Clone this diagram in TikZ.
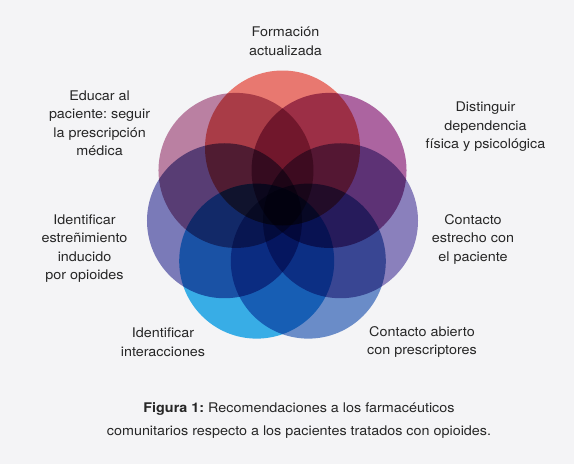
\documentclass[tikz,border=0pt]{standalone}
\usepackage{fontspec}
\setmainfont[FakeStretch=1.08]{TeX Gyre Heros}
\frenchspacing
\definecolor{bg}{HTML}{F4F4F6}
\definecolor{txt}{HTML}{262626}
\definecolor{cRed}{HTML}{E87870}
\definecolor{cMag}{HTML}{AC64A0}
\definecolor{cLav}{HTML}{8A80BC}
\definecolor{cBlu}{HTML}{6A8CC8}
\definecolor{cCya}{HTML}{38ADE6}
\definecolor{cPur}{HTML}{7A7AB8}
\definecolor{cMau}{HTML}{BA80A2}
\begin{document}
\begin{tikzpicture}[x=1pt,y=-1pt,
  lbl/.style={align=center, font=\fontsize{13.3}{18.5}\selectfont\frenchspacing, text=txt, inner sep=0pt},
  petal/.style={circle, inner sep=0pt, minimum size=155pt, draw=none}]
\fill[bg] (0,0) rectangle (574,464);
\useasboundingbox (0,0) rectangle (574,464);
\coordinate (C) at (282.5,207.5);
\begin{scope}[blend group=multiply]
\foreach \a/\c/\n in {-90/cRed/1, -38.57/cMag/2, 12.86/cLav/3, 64.29/cBlu/4, 115.71/cCya/5, 167.14/cPur/6, -141.43/cMau/7}
  \path (C) ++(\a:59.5) node[petal, fill=\c] (p\n) {};
\end{scope}
\node[lbl] (l1) at (285.5,41) {Formación\\actualizada};
\node[lbl] (l2) at (485.5,127) {Distinguir\\dependencia\\física y psicológica};
\node[lbl] (l3) at (473,239) {Contacto\\estrecho con\\el paciente};
\node[lbl] (l4) at (422,342) {Contacto abierto\\con prescriptores};
\node[lbl] (l5) at (163,342) {Identificar\\interacciones};
\node[lbl] (l6) at (84.5,248.5) {Identificar\\estreñimiento\\inducido\\por opioides};
\node[lbl] (l7) at (99.6,123) {Educar al\\paciente: seguir\\la prescripción\\médica};
\node[lbl, font=\fontsize{13.3}{23}\selectfont\frenchspacing] (cap) at (299,420) {\textbf{Figura 1:} Recomendaciones a los farmacéuticos\\comunitarios respecto a los pacientes tratados con opioides.};
\end{tikzpicture}
\end{document}
